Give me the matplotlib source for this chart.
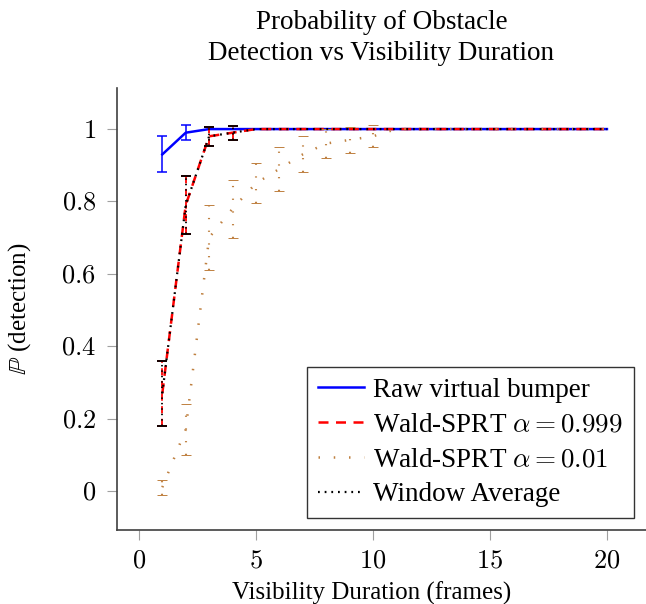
import numpy as np
import matplotlib
matplotlib.use("Agg")
import matplotlib.pyplot as plt

plt.rcParams['font.family'] = ['Liberation Serif', 'DejaVu Serif']
plt.rcParams['mathtext.fontset'] = 'cm'

# datos
frames = list(range(1, 21))
raw = [0.93, 0.99] + [1.0] * 18
raw_err = [0.05, 0.02]
wald999 = [0.27, 0.79, 0.98, 0.99] + [1.0] * 16
wald999_err = [0.09, 0.08, 0.027, 0.019]
wald001 = [0.01, 0.17, 0.70, 0.78, 0.85, 0.89, 0.93, 0.96, 0.97, 0.98] + [1.0] * 10
wald001_err = [0.02, 0.07, 0.09, 0.08, 0.055, 0.06, 0.05, 0.04, 0.035, 0.03]
window = [0.27, 0.79, 0.98, 0.99] + [1.0] * 16
window_err = [0.09, 0.08, 0.027, 0.019]

xticks = [0, 5, 10, 15, 20]
yticks = [0, 0.2, 0.4, 0.6, 0.8, 1]

brown = (0.75, 0.5, 0.25)
fs = 18
fs_big = 19.5

fig = plt.figure(figsize=(6.46, 6.04), dpi=100)
ax = fig.add_axes([0.181, 0.1225, 0.819, 0.7315])


def barras(x, y, err, color, ls, lw, ct=None):
    n = len(err)
    eb = ax.errorbar(x[:n], y[:n], yerr=err, fmt='none', ecolor=color,
                     elinewidth=lw, capsize=3.6, capthick=ct or lw)
    eb[2][0].set_linestyle(ls)


ax.plot(frames, raw, color='blue', lw=1.8, label='Raw virtual bumper')
barras(frames, raw, raw_err, 'blue', '-', 1.1)

ax.plot(frames, wald999, color='red', lw=1.8, ls=(0, (4, 3)),
        label=r'Wald-SPRT $\alpha = 0.999$')
barras(frames, wald999, wald999_err, 'red', (0, (4, 3)), 1.3)

ax.plot(frames, wald001, color=brown, lw=1.8, ls=(0, (0.6, 5.5)),
        label=r'Wald-SPRT $\alpha = 0.01$')
barras(frames, wald001, wald001_err, brown, (0, (0.6, 5.5)), 1.5, ct=0.7)

ax.plot(frames, window, color='black', lw=1.6, ls=(0, (0.8, 2.2)),
        label='Window Average')
barras(frames, window, window_err, 'black', (0, (0.8, 2.2)), 1.3)

ax.set_xlim(-0.94, 21.67)
ax.set_ylim(-0.108, 1.113)
ax.set_xticks(xticks, labels=['$%g$' % t for t in xticks])
ax.set_yticks(yticks, labels=['$%g$' % t for t in yticks])
ax.tick_params(direction='out', length=7, width=0.8, color='#a0a0a0',
               labelsize=19, pad=8)
ax.spines['top'].set_visible(False)
ax.spines['right'].set_visible(False)
for s in ['left', 'bottom']:
    ax.spines[s].set_color('#404040')
    ax.spines[s].set_linewidth(1.2)

ax.set_xlabel('Visibility Duration (frames)', fontsize=fs)
ax.set_ylabel(r'$\mathbb{P}$ (detection)', fontsize=fs)
ax.xaxis.set_label_coords(0.481, -0.117)
ax.yaxis.set_label_coords(-0.158, 0.5)
ax.set_title('Probability of Obstacle\nDetection vs Visibility Duration',
             fontsize=fs_big, pad=20, linespacing=1.32)

leg = ax.legend(loc='lower right', fontsize=fs_big, frameon=True, fancybox=False,
                edgecolor='black', handlelength=1.7, labelspacing=0.36,
                borderaxespad=0.45, handletextpad=0.35, borderpad=0.4)
leg.get_frame().set_linewidth(1.0)

fig.savefig('out.png', dpi=100)
